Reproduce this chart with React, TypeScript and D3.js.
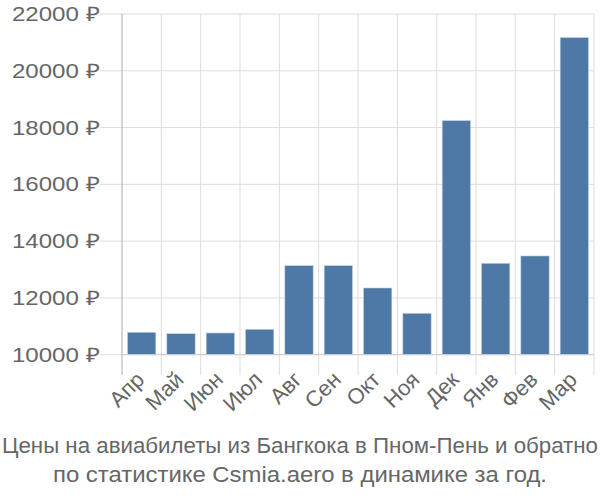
import React from "react";
import * as d3 from "d3";

const months = ["Апр", "Май", "Июн", "Июл", "Авг", "Сен", "Окт", "Ноя", "Дек", "Янв", "Фев", "Мар"];
const prices = [10790, 10740, 10765, 10895, 13136, 13136, 12350, 11458, 18245, 13220, 13478, 21170];
const yTicks = [10000, 12000, 14000, 16000, 18000, 20000, 22000];
const titleLines = [
  "Цены на авиабилеты из Бангкока в Пном-Пень и обратно",
  "по статистике Csmia.aero в динамике за год.",
];

export default function App() {
  const W = 600, H = 500;
  const left = 122, right = 594, top = 14, bottom = 354.7;
  const x = d3.scaleBand<string>().domain(months).range([left, right]).paddingInner(0.28).paddingOuter(0.14);
  const xGrid = d3.scaleBand<string>().domain(months).range([left, right]);
  const y = d3.scaleLinear().domain([10000, 22000]).range([bottom, top]);
  const font = "'Liberation Sans', Arial, sans-serif";
  const grey = "#666";
  return (
    <svg width={W} height={H} style={{ position: "absolute", left: 0, top: 0 }}>
      <rect width={W} height={H} fill="#fff" />
      {yTicks.map((t) => (
        <g key={t}>
          <line x1={100} x2={right} y1={y(t)} y2={y(t)} stroke="#ddd" strokeWidth={1} />
          <text x={100} y={y(t)} dy="0.35em" textAnchor="end" style={{ fontSize: "20px", fontFamily: font }} fill={grey} textLength={88} lengthAdjust="spacingAndGlyphs">
            {t} ₽
          </text>
        </g>
      ))}
      {months.map((m) => (
        <line key={m} x1={(xGrid(m) as number) + xGrid.bandwidth()} x2={(xGrid(m) as number) + xGrid.bandwidth()} y1={top} y2={375} stroke="#ddd" strokeWidth={1} />
      ))}
      <line x1={left} x2={left} y1={top} y2={375} stroke="#aaa" strokeWidth={1} />
      {months.map((m, i) => (
        <rect
          key={m}
          x={x(m)}
          y={y(prices[i])}
          width={x.bandwidth()}
          height={bottom - y(prices[i])}
          fill="#4e78a6"
          stroke="#c6d3e2"
          strokeWidth={0.6}
        />
      ))}
      <line x1={left} x2={right} y1={bottom} y2={bottom} stroke="#ccc" strokeWidth={1} />
      {months.map((m) => {
        const cx = (xGrid(m) as number) + xGrid.bandwidth() / 2 + 4;
        return (
          <text key={m} transform={`translate(${cx},${381}) rotate(-45)`} textAnchor="end" style={{ fontSize: "22px", fontFamily: font }} fill={grey}>
            {m}
          </text>
        );
      })}
      {titleLines.map((l, i) => (
        <text key={i} x={W / 2} y={453 + i * 29} textAnchor="middle" style={{ fontSize: "22px", fontFamily: font }} fill={grey} textLength={i === 0 ? 596 : 494} lengthAdjust="spacingAndGlyphs">
          {l}
        </text>
      ))}
    </svg>
  );
}
